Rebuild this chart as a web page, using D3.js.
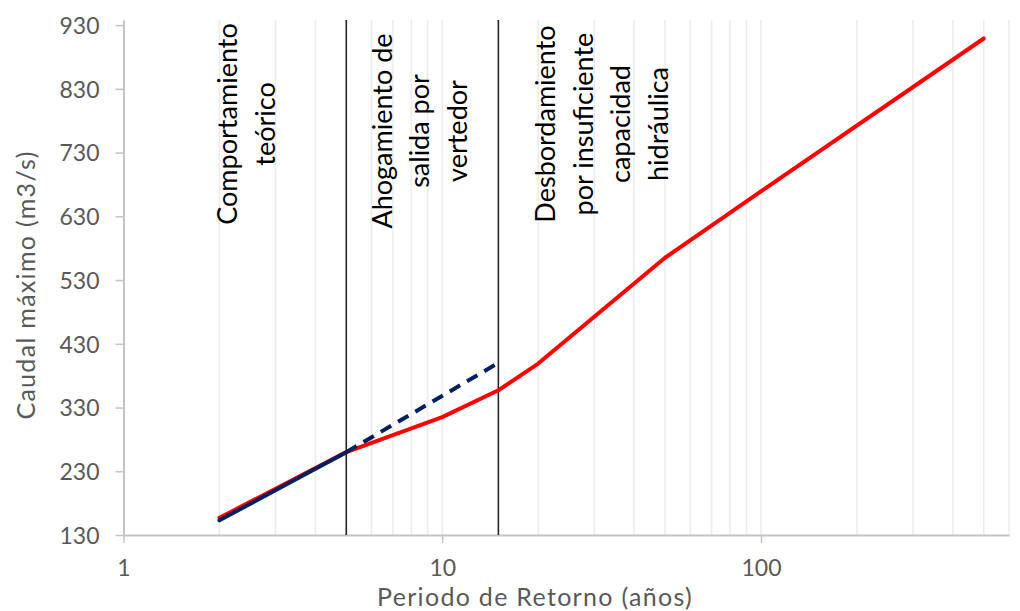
<!DOCTYPE html>
<html>
<head>
<meta charset="utf-8">
<script src="https://cdn.jsdelivr.net/npm/d3@7"></script>
<style>
  html, body { margin: 0; padding: 0; background: #ffffff; }
  svg { display: block; font-family: Lato, "Open Sans", sans-serif; }
</style>
</head>
<body>
<svg id="chart" width="1020" height="611"></svg>
<script>
// Return periods (years) and peak discharge (m3/s)
const periodosReal = [2, 5, 10, 15, 20, 50, 100, 500];
const caudalReal   = [157, 260, 315, 357, 399, 565, 669, 909];

// Theoretical behaviour: solid up to 5 years, dashed extension to 15 years
const periodosTeorico = [2, 5];
const caudalTeorico   = [153, 260];
const periodosExtension = [5, 15];
const caudalExtension   = [260, 400];

// Boundaries between hydraulic regimes (years)
const limitesZona = [5, 15];

// Axis ticks
const xTicks = [1, 10, 100];
const yTicks = [130, 230, 330, 430, 530, 630, 730, 830, 930];

// Zone descriptions (one entry per zone, one string per line)
const zonaTextos = [
  ["Comportamiento", "teórico"],
  ["Ahogamiento de", "salida por", "vertedor"],
  ["Desbordamiento", "por insuficiente", "capacidad", "hidráulica"]
];

const ejeX = "Periodo de Retorno (años)";
const ejeY = "Caudal máximo (m3/s)";

// ---- layout ----
const mLeft = 123.5, mRight = 1009, mTop = 20, mBottom = 535;
const svg = d3.select("#chart");

const x = d3.scaleLog().domain([1, 600]).range([mLeft, mRight]);
const y = d3.scaleLinear().domain([130, 938]).range([mBottom, mTop]);

// vertical log gridlines (1..9 per decade)
const grid = [];
for (let p = 0; p <= 2; p++) {
  for (let d = 1; d <= 9; d++) {
    const v = d * Math.pow(10, p);
    if (v > 1 && v <= 600) grid.push(v);
  }
}
svg.append("g").selectAll("line").data(grid).join("line")
  .attr("x1", d => x(d)).attr("x2", d => x(d))
  .attr("y1", mTop).attr("y2", mBottom)
  .attr("stroke", "#ececec").attr("stroke-width", 1.5);

// axes
const gx = svg.append("g").attr("transform", `translate(0,${mBottom})`)
  .call(d3.axisBottom(x).tickValues(xTicks).tickFormat(d3.format("d")).tickSize(8).tickSizeOuter(0));
const gy = svg.append("g").attr("transform", `translate(${mLeft},0)`)
  .call(d3.axisLeft(y).tickValues(yTicks).tickSize(8).tickSizeOuter(0));

[gx, gy].forEach(g => {
  g.select(".domain").attr("stroke", "#c4c4c4").attr("stroke-width", 2);
  g.selectAll(".tick line").attr("stroke", "#c4c4c4").attr("stroke-width", 1.5);
  g.selectAll(".tick text").attr("fill", "#595959").style("font-size", "23px")
    .style("font-family", "Lato, sans-serif");
});
gx.selectAll(".tick text").attr("dy", null).attr("y", 41);
gy.selectAll(".tick text").attr("x", -24).attr("dy", "0.36em");

// regime boundaries
svg.append("g").selectAll("line").data(limitesZona).join("line")
  .attr("x1", d => x(d)).attr("x2", d => x(d))
  .attr("y1", mTop).attr("y2", mBottom)
  .attr("stroke", "#262626").attr("stroke-width", 1.6);

// lines
const line = d3.line().x(d => x(d[0])).y(d => y(d[1]));
svg.append("path")
  .datum(d3.zip(periodosReal, caudalReal))
  .attr("d", line).attr("fill", "none")
  .attr("stroke", "#ff0000").attr("stroke-width", 4)
  .attr("stroke-linejoin", "round").attr("stroke-linecap", "round");
svg.append("path")
  .datum(d3.zip(periodosTeorico, caudalTeorico))
  .attr("d", line).attr("fill", "none")
  .attr("stroke", "#002060").attr("stroke-width", 4)
  .attr("stroke-linecap", "round");
svg.append("path")
  .datum(d3.zip(periodosExtension, caudalExtension))
  .attr("d", line).attr("fill", "none")
  .attr("stroke", "#002060").attr("stroke-width", 4)
  .attr("stroke-dasharray", "12,8");

// zone labels (rotated, read bottom to top)
const zonaPos = [
  { bx: 237, cy: 124 },
  { bx: 391.5, cy: 131 },
  { bx: 555, cy: 124 }
];
zonaTextos.forEach((lines, i) => {
  const t = svg.append("text")
    .attr("transform", `translate(${zonaPos[i].bx},${zonaPos[i].cy}) rotate(-90)`)
    .attr("text-anchor", "middle")
    .attr("fill", "#000")
    .style("font-size", "27px");
  lines.forEach((s, j) => {
    t.append("tspan").attr("x", 0).attr("dy", j === 0 ? 0 : 37.5).text(s);
  });
});

// axis titles
svg.append("text")
  .attr("x", 535).attr("y", 606)
  .attr("text-anchor", "middle").attr("fill", "#595959")
  .style("font-size", "25px").style("letter-spacing", "1.3px").text(ejeX);
svg.append("text")
  .attr("transform", `translate(35,285) rotate(-90)`)
  .attr("text-anchor", "middle").attr("fill", "#595959")
  .style("font-size", "25px").style("letter-spacing", "1.3px").text(ejeY);
</script>
</body>
</html>
